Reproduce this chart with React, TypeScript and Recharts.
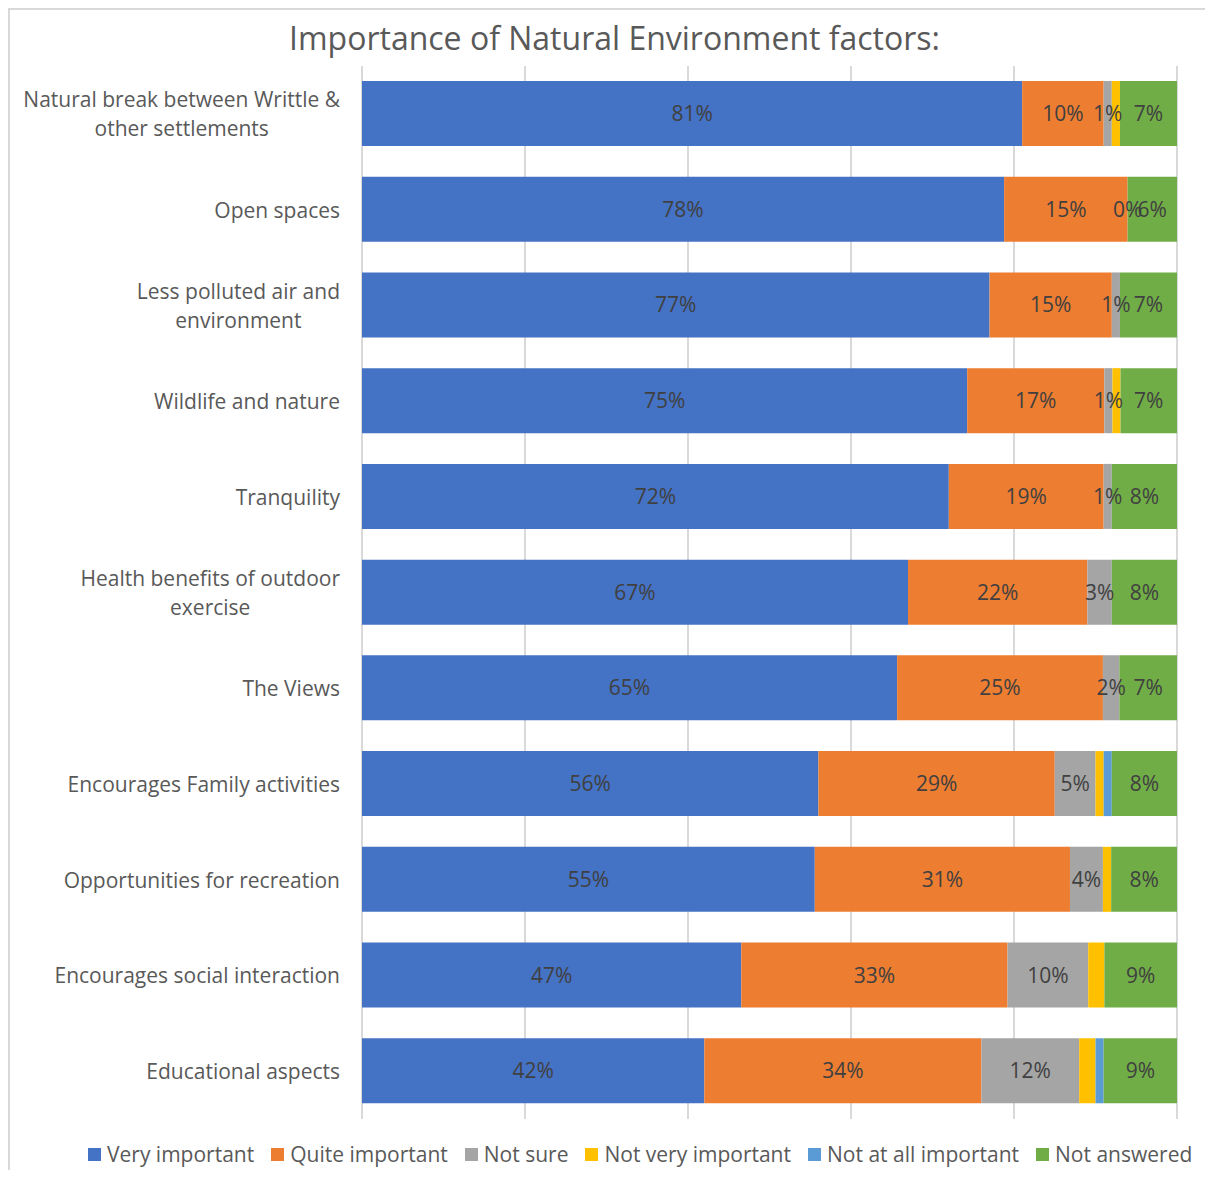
import React from 'react';
import { BarChart, Bar, XAxis, YAxis, CartesianGrid, Legend, LabelList } from 'recharts';

const categories = [
  'Natural break between Writtle & other settlements',
  'Open spaces',
  'Less polluted air and environment',
  'Wildlife and nature',
  'Tranquility',
  'Health benefits of outdoor exercise',
  'The Views',
  'Encourages Family activities',
  'Opportunities for recreation',
  'Encourages social interaction',
  'Educational aspects',
];

// percentages as shown on the labels (rows may not sum to exactly 100)
const veryImportant = [81, 78, 77, 75, 72, 67, 65, 56, 55, 47, 42];
const quiteImportant = [10, 15, 15, 17, 19, 22, 25, 29, 31, 33, 34];
const notSure = [1, 0, 1, 1, 1, 3, 2, 5, 4, 10, 12];
const notVeryImportant = [1, 0, 0, 1, 0, 0, 0, 1, 1, 2, 2];
const notAtAllImportant = [0, 0, 0, 0, 0, 0, 0, 1, 0, 0, 1];
const notAnswered = [7, 6, 7, 7, 8, 8, 7, 8, 8, 9, 9];

const xTicks = [0, 20, 40, 60, 80, 100];

const FONT = '"Open Sans", "DejaVu Sans", sans-serif';
const TXT = 21;

const series = [
  { key: 'very', name: 'Very important', color: '#4472C4', values: veryImportant, label: true },
  { key: 'quite', name: 'Quite important', color: '#ED7D31', values: quiteImportant, label: true },
  { key: 'unsure', name: 'Not sure', color: '#A5A5A5', values: notSure, label: true },
  { key: 'notVery', name: 'Not very important', color: '#FFC000', values: notVeryImportant, label: false },
  { key: 'notAtAll', name: 'Not at all important', color: '#5B9BD5', values: notAtAllImportant, label: false },
  { key: 'none', name: 'Not answered', color: '#70AD47', values: notAnswered, label: true },
];

// 100% stacked: each row is scaled to its own total, like Excel does
const rows = categories.map((category, i) => {
  const total = series.reduce((s, ser) => s + ser.values[i], 0);
  const row: Record<string, string | number> = { category };
  series.forEach((ser) => {
    row[ser.key] = (ser.values[i] / total) * 100;
    row[ser.key + 'Raw'] = ser.values[i];
  });
  return row;
});

let measureCtx: CanvasRenderingContext2D | null = null;
function textWidth(s: string) {
  if (!measureCtx) {
    measureCtx = document.createElement('canvas').getContext('2d');
  }
  if (!measureCtx) return s.length * 10;
  measureCtx.font = `${TXT}px "Open Sans"`;
  return measureCtx.measureText(s).width;
}

function wrapLabel(label: string, maxChars: number) {
  const words = label.split(' ');
  const lines: string[] = [];
  let cur = '';
  words.forEach((w) => {
    const next = cur ? cur + ' ' + w : w;
    if (next.length > maxChars && cur) {
      lines.push(cur);
      cur = w;
    } else {
      cur = next;
    }
  });
  if (cur) lines.push(cur);
  return lines;
}

function CategoryTick(props: any) {
  const { x, y, payload } = props;
  const lines = wrapLabel(String(payload.value), 31);
  const common = { fill: '#595959', fontSize: TXT, fontFamily: FONT, dominantBaseline: 'central' as const };
  if (lines.length === 1) {
    return (
      <text x={x} y={y} textAnchor="end" {...common}>
        {lines[0]}
      </text>
    );
  }
  const blockWidth = Math.max(...lines.map(textWidth));
  const cx = x - blockWidth / 2;
  return (
    <g>
      {lines.map((line, i) => (
        <text key={i} x={cx} y={y + (i - (lines.length - 1) / 2) * 29} textAnchor="middle" {...common}>
          {line}
        </text>
      ))}
    </g>
  );
}

// Excel still shows "0%" for an empty "Not sure" segment: draw it at the end of the orange bar
function ZeroUnsureLabel(props: any) {
  const { x, y, width, height, value } = props;
  if (value !== 0) return null;
  return (
    <text
      x={x + width}
      y={y + height / 2}
      textAnchor="middle"
      dominantBaseline="central"
      fill="#404040"
      fontSize={TXT}
      fontFamily={FONT}
    >
      0%
    </text>
  );
}

function LegendContent() {
  return (
    <div style={{ display: 'flex', alignItems: 'center', fontFamily: FONT, fontSize: TXT, color: '#595959' }}>
      {series.map((s) => (
        <div key={s.key} style={{ display: 'flex', alignItems: 'center', marginRight: 17 }}>
          <span style={{ width: 13, height: 13, background: s.color, marginRight: 6, display: 'inline-block' }} />
          <span style={{ whiteSpace: 'nowrap' }}>{s.name}</span>
        </div>
      ))}
    </div>
  );
}

export default function App() {
  return (
    <div
      style={{
        position: 'relative',
        width: 1203,
        height: 1160,
        borderLeft: '2px solid #d9d9d9',
        borderTop: '2px solid #d9d9d9',
        fontFamily: FONT,
      }}
    >
      <div
        style={{
          position: 'absolute',
          top: 9,
          left: 3,
          width: 1203,
          textAlign: 'center',
          fontSize: 32,
          lineHeight: '38px',
          color: '#595959',
        }}
      >
        Importance of Natural Environment factors:
      </div>
      <BarChart
        layout="vertical"
        width={1203}
        height={1160}
        data={rows}
        margin={{ top: 56, right: 36, bottom: 51, left: 0 }}
      >
        <CartesianGrid horizontal={false} stroke="#d9d9d9" strokeWidth={2} />
        <XAxis type="number" domain={[0, 100]} ticks={xTicks} hide />
        <YAxis
          type="category"
          dataKey="category"
          width={352}
          axisLine={false}
          tickLine={false}
          tickSize={20}
          interval={0}
          tick={<CategoryTick />}
        />
        <Legend
          layout="horizontal"
          verticalAlign="middle"
          align="center"
          wrapperStyle={{ top: 1130, left: 78, width: 1125 }}
          content={<LegendContent />}
        />
        {series.map((s) => (
          <Bar key={s.key} dataKey={s.key} name={s.name} stackId="a" fill={s.color} barSize={65} isAnimationActive={false}>
            {s.label && (
              <LabelList
                dataKey={s.key + 'Raw'}
                position="center"
                formatter={(v: any) => `${v}%`}
                fill="#404040"
                fontSize={TXT}
                fontFamily={FONT}
              />
            )}
            {s.key === 'quite' && <LabelList dataKey="unsureRaw" content={<ZeroUnsureLabel />} />}
          </Bar>
        ))}
      </BarChart>
    </div>
  );
}
